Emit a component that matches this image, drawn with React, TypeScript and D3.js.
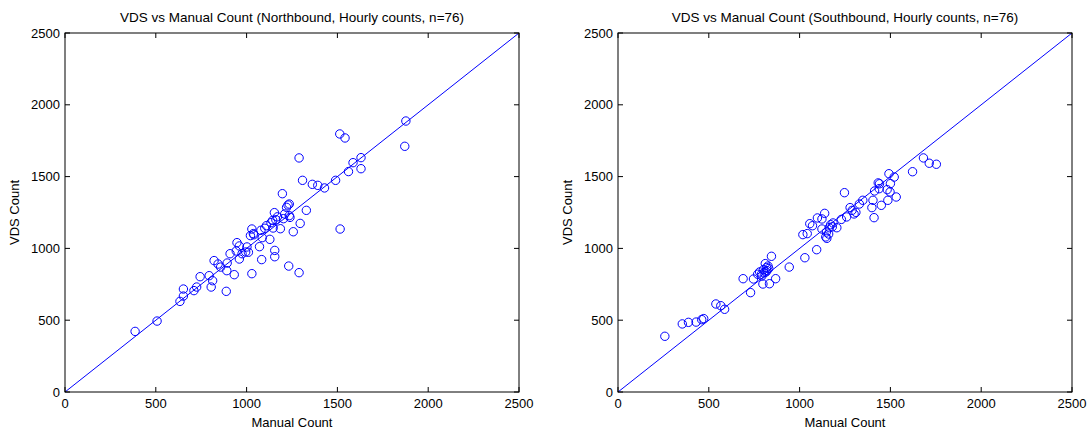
import React from "react";
import * as d3 from "d3";

const northManual = [386, 507, 633, 652, 652, 710, 725, 744, 794, 805, 813, 821, 843, 857, 888, 893, 891, 909, 932, 943, 947, 960, 960, 975, 995, 1002, 1010, 1021, 1029, 1029, 1037, 1071, 1079, 1083, 1086, 1109, 1128, 1134, 1144, 1153, 1155, 1155, 1161, 1146, 1186, 1197, 1203, 1220, 1228, 1235, 1235, 1232, 1239, 1257, 1289, 1289, 1295, 1308, 1329, 1362, 1392, 1429, 1490, 1513, 1515, 1542, 1561, 1586, 1630, 1630, 1871, 1877, 1040, 1100, 1170, 1210];
const northVDS = [422, 494, 631, 668, 717, 706, 731, 803, 810, 731, 775, 915, 891, 870, 701, 898, 845, 963, 817, 982, 1040, 926, 1017, 963, 975, 1010, 973, 1089, 1135, 824, 1103, 1012, 1126, 922, 1075, 1158, 1063, 1179, 1195, 1249, 986, 942, 1200, 1142, 1137, 1381, 1207, 1286, 1302, 1309, 1228, 877, 1216, 1116, 1630, 831, 1174, 1474, 1265, 1446, 1439, 1421, 1474, 1797, 1135, 1769, 1535, 1597, 1632, 1555, 1711, 1887, 1095, 1140, 1220, 1240];

const southManual = [258, 354, 388, 430, 461, 472, 539, 566, 587, 689, 730, 746, 769, 780, 792, 798, 801, 811, 815, 818, 826, 834, 845, 868, 943, 1018, 1029, 1042, 1056, 1071, 1094, 1098, 1123, 1123, 1138, 1144, 1148, 1163, 1171, 1184, 1205, 1230, 1247, 1259, 1278, 1289, 1310, 1329, 1348, 1398, 1404, 1410, 1413, 1433, 1438, 1450, 1482, 1486, 1492, 1498, 1500, 1521, 1532, 1622, 1682, 1714, 1753, 805, 820, 830, 790, 1150, 1160, 1180, 1300, 1440];
const southVDS = [388, 474, 485, 487, 504, 511, 613, 601, 576, 789, 692, 787, 820, 836, 808, 752, 852, 894, 836, 866, 877, 754, 945, 789, 870, 1096, 935, 1103, 1172, 1158, 991, 1212, 1205, 1135, 1244, 1080, 1114, 1144, 1165, 1177, 1144, 1202, 1388, 1219, 1284, 1265, 1251, 1309, 1335, 1284, 1335, 1214, 1400, 1456, 1416, 1300, 1409, 1335, 1520, 1393, 1451, 1497, 1358, 1534, 1630, 1593, 1586, 830, 845, 860, 820, 1070, 1100, 1150, 1240, 1450];

const ticks = [0, 500, 1000, 1500, 2000, 2500];
const titles = [
  "VDS vs Manual Count (Northbound, Hourly counts, n=76)",
  "VDS vs Manual Count (Southbound, Hourly counts, n=76)",
];
const xLabel = "Manual Count";
const yLabel = "VDS Count";

const FONT = "'Liberation Sans', Arial, sans-serif";
const BLUE = "#0000ff";

function Panel({ left, title, xs, ys }: { left: number; title: string; xs: number[]; ys: number[] }) {
  const top = 33, bottom = 392, width = 454;
  const right = left + width;
  const x = d3.scaleLinear().domain([0, 2500]).range([left, right]);
  const y = d3.scaleLinear().domain([0, 2500]).range([bottom, top]);
  const tl = 5;
  return (
    <g>
      <text x={(left + right) / 2} y={22} textAnchor="middle" fontSize={13.5} fontFamily={FONT} fill="#000">{title}</text>
      <line x1={x(0)} y1={y(0)} x2={x(2500)} y2={y(2500)} stroke={BLUE} strokeWidth={1} />
      {xs.map((v, i) => (
        <circle key={i} cx={x(v)} cy={y(ys[i])} r={4.2} fill="none" stroke={BLUE} strokeWidth={1} />
      ))}
      <rect x={left} y={top} width={width} height={bottom - top} fill="none" stroke="#000" strokeWidth={1} />
      {ticks.map((t) => (
        <g key={"x" + t}>
          <line x1={x(t)} x2={x(t)} y1={bottom} y2={bottom - tl} stroke="#000" />
          <line x1={x(t)} x2={x(t)} y1={top} y2={top + tl} stroke="#000" />
          <text x={x(t)} y={408} textAnchor="middle" fontSize={13} fontFamily={FONT}>{t}</text>
        </g>
      ))}
      {ticks.map((t) => (
        <g key={"y" + t}>
          <line x1={left} x2={left + tl} y1={y(t)} y2={y(t)} stroke="#000" />
          <line x1={right} x2={right - tl} y1={y(t)} y2={y(t)} stroke="#000" />
          <text x={left - 5} y={y(t) + 4.5} textAnchor="end" fontSize={13} fontFamily={FONT}>{t}</text>
        </g>
      ))}
      <text x={(left + right) / 2} y={427} textAnchor="middle" fontSize={13} fontFamily={FONT}>{xLabel}</text>
      <text transform={`translate(${left - 46},${(top + bottom) / 2}) rotate(-90)`} textAnchor="middle" fontSize={13} fontFamily={FONT}>{yLabel}</text>
    </g>
  );
}

export default function App() {
  return (
    <svg width={1092} height={434} style={{ position: "absolute", left: 0, top: 0, background: "#fff" }}>
      <rect width={1092} height={434} fill="#fff" />
      <Panel left={65} title={titles[0]} xs={northManual} ys={northVDS} />
      <Panel left={618} title={titles[1]} xs={southManual} ys={southVDS} />
    </svg>
  );
}
